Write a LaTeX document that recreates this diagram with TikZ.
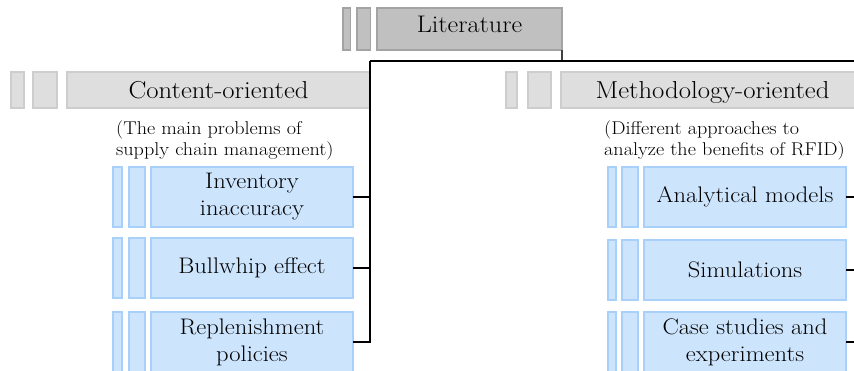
\documentclass[tikz,border=0pt]{standalone}
\usepackage{fontspec}
\setmainfont{Latin Modern Roman}[FakeStretch=1.09]
\definecolor{litfill}{HTML}{C0C0C0}
\definecolor{litdraw}{HTML}{A3A3A3}
\definecolor{hdfill}{HTML}{DEDEDE}
\definecolor{hddraw}{HTML}{CDCDCD}
\definecolor{blfill}{HTML}{CCE4FC}
\definecolor{bldraw}{HTML}{A8D0F8}
\tikzset{
  box/.style={draw, anchor=north west, inner sep=0pt, outer sep=0pt, line width=1pt},
  litbox/.style={box, fill=litfill, draw=litdraw, line width=1.5pt, minimum height=42pt},
  hdbox/.style={box, fill=hdfill, draw=hddraw, line width=1.2pt, minimum height=36pt,
    font=\fontsize{24.5}{29}\selectfont, text height=16pt, text depth=0pt},
  chbox/.style={box, fill=blfill, draw=bldraw, line width=1.2pt, minimum height=60pt,
    align=center, font=\fontsize{22.5}{27}\selectfont},
  subtxt/.style={anchor=north west, inner sep=0pt, align=left, font=\fontsize{18.5}{21}\selectfont},
  conn/.style={draw=black, line width=1.2pt},
}
\begin{document}
\begin{tikzpicture}[x=1pt,y=-1pt]
\useasboundingbox (0,0) rectangle (854,370);
\clip (0,0) rectangle (854,370);
% Literature
\node[litbox, minimum width=7.5pt] (litA) at (343,8) {};
\node[litbox, minimum width=13.5pt] (litB) at (357,8) {};
\node[litbox, minimum width=185pt, font=\fontsize{24}{28}\selectfont, text height=16pt, text depth=10pt] (lit) at (377,8) {Literature};
% Content-oriented
\node[hdbox, minimum width=13pt] (conA) at (11,72) {};
\node[hdbox, minimum width=24pt] (conB) at (33,72) {};
\node[hdbox, minimum width=303pt] (con) at (67,72) {Content-oriented};
% Methodology-oriented
\node[hdbox, minimum width=11pt] (metA) at (506,72) {};
\node[hdbox, minimum width=23pt] (metB) at (528,72) {};
\node[hdbox, minimum width=303pt] (met) at (561,72) {Methodology-oriented};
% subtitles
\node[subtxt] (consub) at (116,120) {(The main problems of\\supply chain management)};
\node[subtxt] (metsub) at (604,120) {(Different approaches to\\analyze the benefits of RFID)};
% left children
\node[chbox, minimum width=9pt] (l1a) at (113,167) {};
\node[chbox, minimum width=16pt] (l1b) at (129,167) {};
\node[chbox, minimum width=202pt] (l1) at (151,167) {Inventory\\inaccuracy};
\node[chbox, minimum width=9pt] (l2a) at (113,238) {};
\node[chbox, minimum width=16pt] (l2b) at (129,238) {};
\node[chbox, minimum width=202pt] (l2) at (151,238) {Bullwhip effect};
\node[chbox, minimum width=9pt] (l3a) at (113,312) {};
\node[chbox, minimum width=16pt] (l3b) at (129,312) {};
\node[chbox, minimum width=202pt] (l3) at (151,312) {Replenishment\\policies};
% right children
\node[chbox, minimum width=8pt] (r1a) at (608,167) {};
\node[chbox, minimum width=16pt] (r1b) at (622,167) {};
\node[chbox, minimum width=202pt] (r1) at (644,167) {Analytical models};
\node[chbox, minimum width=8pt] (r2a) at (608,240) {};
\node[chbox, minimum width=16pt] (r2b) at (622,240) {};
\node[chbox, minimum width=202pt] (r2) at (644,240) {Simulations};
\node[chbox, minimum width=8pt] (r3a) at (608,312) {};
\node[chbox, minimum width=16pt] (r3b) at (622,312) {};
\node[chbox, minimum width=202pt] (r3) at (644,312) {Case studies and\\experiments};
% connectors
\coordinate (join) at (562,61);
\coordinate (lsplit) at (370,61);
\coordinate (rsplit) at (862,61);
\draw[line width=1.2pt, draw=black!75] (lit.south east) -- (join);
\draw[conn] (lsplit) -- (rsplit);
\draw[conn] (lsplit) -- (lsplit |- l3.east) -- (l3.east);
\draw[conn] (l1.east) -- (l1.east -| lsplit);
\draw[conn] (l2.east) -- (l2.east -| lsplit);
\draw[conn] (rsplit) -- (rsplit |- r3.east) -- (r3.east);
\draw[conn] (r1.east) -- (r1.east -| rsplit);
\draw[conn] (r2.east) -- (r2.east -| rsplit);
\end{tikzpicture}
\end{document}
